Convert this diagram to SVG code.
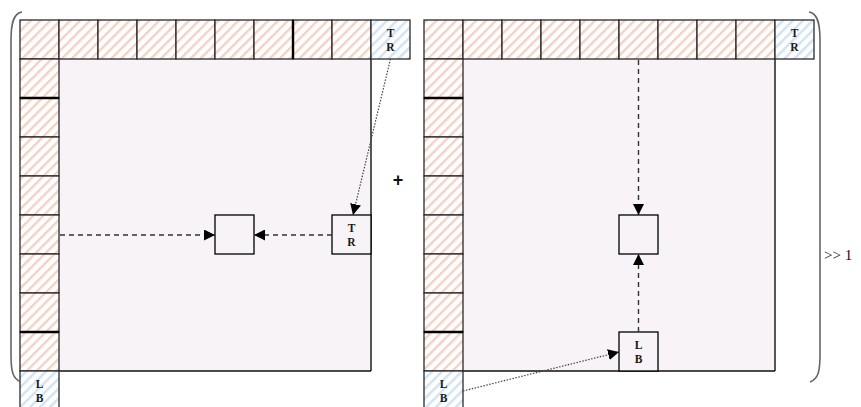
<svg xmlns="http://www.w3.org/2000/svg" width="861" height="407" viewBox="0 0 861 407">
<defs>
<pattern id="hp" width="7" height="7" patternUnits="userSpaceOnUse" patternTransform="rotate(45)">
<rect width="7" height="7" fill="#ffffff"/><rect width="2.4" height="7" fill="#f2d2c5"/>
</pattern>
<pattern id="hb" width="7" height="7" patternUnits="userSpaceOnUse" patternTransform="rotate(45)">
<rect width="7" height="7" fill="#ffffff"/><rect width="2.4" height="7" fill="#cfe2f7"/>
</pattern>
<marker id="ah" viewBox="0 0 10 10" refX="10" refY="5" markerWidth="11" markerHeight="11" markerUnits="userSpaceOnUse" orient="auto">
<path d="M0,0 L10,5 L0,10 z" fill="#000"/>
</marker>
<style>
.c{fill:url(#hp);stroke:#2a2a2a;stroke-width:1.3}
.b{fill:url(#hb);stroke:#2a2a2a;stroke-width:1.3}
.m{fill:#f7f3f7;stroke:none}
.bx{fill:#f7f3f7;stroke:#000;stroke-width:1.3}
.ln{stroke:#111;stroke-width:1.4;fill:none}
.tk{stroke:#000;stroke-width:2.4}
.t{font-family:"Liberation Serif",serif;font-weight:bold;font-size:11.5px;fill:#1a1a1a;text-anchor:middle}
.da{stroke:#333;stroke-width:1.4;stroke-dasharray:5,4;fill:none;marker-end:url(#ah)}
.do{stroke:#444;stroke-width:1.2;stroke-dasharray:1.5,1.5;fill:none;marker-end:url(#ah)}
.p{fill:none;stroke:#666;stroke-width:1.6}
</style>
</defs>

<g id="panel-left">
<rect class="m" x="59" y="59" width="312" height="312"/>
<line class="ln" x1="371" y1="59" x2="371" y2="371"/>
<line class="ln" x1="20" y1="371" x2="371" y2="371"/>
<g id="left-top-row">
<rect class="c" x="20" y="20" width="39" height="39"/>
<rect class="c" x="59" y="20" width="39" height="39"/>
<rect class="c" x="98" y="20" width="39" height="39"/>
<rect class="c" x="137" y="20" width="39" height="39"/>
<rect class="c" x="176" y="20" width="39" height="39"/>
<rect class="c" x="215" y="20" width="39" height="39"/>
<rect class="c" x="254" y="20" width="39" height="39"/>
<rect class="c" x="293" y="20" width="39" height="39"/>
<rect class="c" x="332" y="20" width="39" height="39"/>
<line class="tk" x1="293" y1="20" x2="293" y2="59"/>
</g>
<g id="left-tr">
<rect class="b" x="371" y="20" width="39" height="39"/>
<text class="t" x="390.5" y="37">T</text><text class="t" x="390.5" y="51">R</text>
</g>
<g id="left-col">
<rect class="c" x="20" y="59" width="39" height="39"/>
<rect class="c" x="20" y="98" width="39" height="39"/>
<rect class="c" x="20" y="137" width="39" height="39"/>
<rect class="c" x="20" y="176" width="39" height="39"/>
<rect class="c" x="20" y="215" width="39" height="39"/>
<rect class="c" x="20" y="254" width="39" height="39"/>
<rect class="c" x="20" y="293" width="39" height="39"/>
<rect class="c" x="20" y="332" width="39" height="39"/>
<line class="tk" x1="20" y1="98" x2="59" y2="98"/>
<line class="tk" x1="20" y1="332" x2="59" y2="332"/>
</g>
<g id="left-lb">
<rect class="b" x="20" y="371" width="39" height="39"/>
<text class="t" x="39.5" y="388">L</text><text class="t" x="39.5" y="402">B</text>
</g>
</g>
<g id="left-target"><rect class="bx" x="215" y="215" width="39" height="39"/></g>
<g id="left-tr-box">
<rect class="bx" x="332" y="215" width="39" height="39"/>
<text class="t" x="351.5" y="232">T</text><text class="t" x="351.5" y="246">R</text>
</g>

<g id="panel-right">
<rect class="m" x="463" y="59" width="312" height="312"/>
<line class="ln" x1="775" y1="59" x2="775" y2="371"/>
<line class="ln" x1="424" y1="371" x2="775" y2="371"/>
<g id="right-top-row">
<rect class="c" x="424" y="20" width="39" height="39"/>
<rect class="c" x="463" y="20" width="39" height="39"/>
<rect class="c" x="502" y="20" width="39" height="39"/>
<rect class="c" x="541" y="20" width="39" height="39"/>
<rect class="c" x="580" y="20" width="39" height="39"/>
<rect class="c" x="619" y="20" width="39" height="39"/>
<rect class="c" x="658" y="20" width="39" height="39"/>
<rect class="c" x="697" y="20" width="39" height="39"/>
<rect class="c" x="736" y="20" width="39" height="39"/>
</g>
<g id="right-tr">
<rect class="b" x="775" y="20" width="39" height="39"/>
<text class="t" x="794.5" y="37">T</text><text class="t" x="794.5" y="51">R</text>
</g>
<g id="right-col">
<rect class="c" x="424" y="59" width="39" height="39"/>
<rect class="c" x="424" y="98" width="39" height="39"/>
<rect class="c" x="424" y="137" width="39" height="39"/>
<rect class="c" x="424" y="176" width="39" height="39"/>
<rect class="c" x="424" y="215" width="39" height="39"/>
<rect class="c" x="424" y="254" width="39" height="39"/>
<rect class="c" x="424" y="293" width="39" height="39"/>
<rect class="c" x="424" y="332" width="39" height="39"/>
<line class="tk" x1="424" y1="98" x2="463" y2="98"/>
<line class="tk" x1="424" y1="332" x2="463" y2="332"/>
</g>
<g id="right-lb">
<rect class="b" x="424" y="371" width="39" height="39"/>
<text class="t" x="443.5" y="388">L</text><text class="t" x="443.5" y="402">B</text>
</g>
</g>
<g id="right-target"><rect class="bx" x="619" y="215" width="39" height="39"/></g>
<g id="right-lb-box">
<rect class="bx" x="619" y="332" width="39" height="39"/>
<text class="t" x="638.5" y="349">L</text><text class="t" x="638.5" y="363">B</text>
</g>

<g id="connectors">
<line class="da" x1="60" y1="235" x2="215" y2="235"/>
<line class="da" x1="332" y1="235" x2="254" y2="235"/>
<line class="do" x1="390.5" y1="59" x2="353" y2="215"/>
<line class="da" x1="638.5" y1="60" x2="638.5" y2="215"/>
<line class="da" x1="638.5" y1="332" x2="638.5" y2="254"/>
<line class="do" x1="463" y1="391" x2="619" y2="352"/>
</g>

<g id="brackets">
<path class="p" d="M22,12 C14,13 11,22 11,40 L11,355 C11,372 13,379 21,382"/>
<path class="p" d="M809,12 C817,13 820,22 820,40 L820,355 C820,372 818,379 810,382"/>
</g>
<text x="398" y="186" font-family="Liberation Sans, sans-serif" font-weight="bold" font-size="18" text-anchor="middle" fill="#111">+</text>
<text x="824" y="260" font-family="Liberation Serif, serif" font-size="15" fill="#111122">&gt;&gt; 1</text>
</svg>
